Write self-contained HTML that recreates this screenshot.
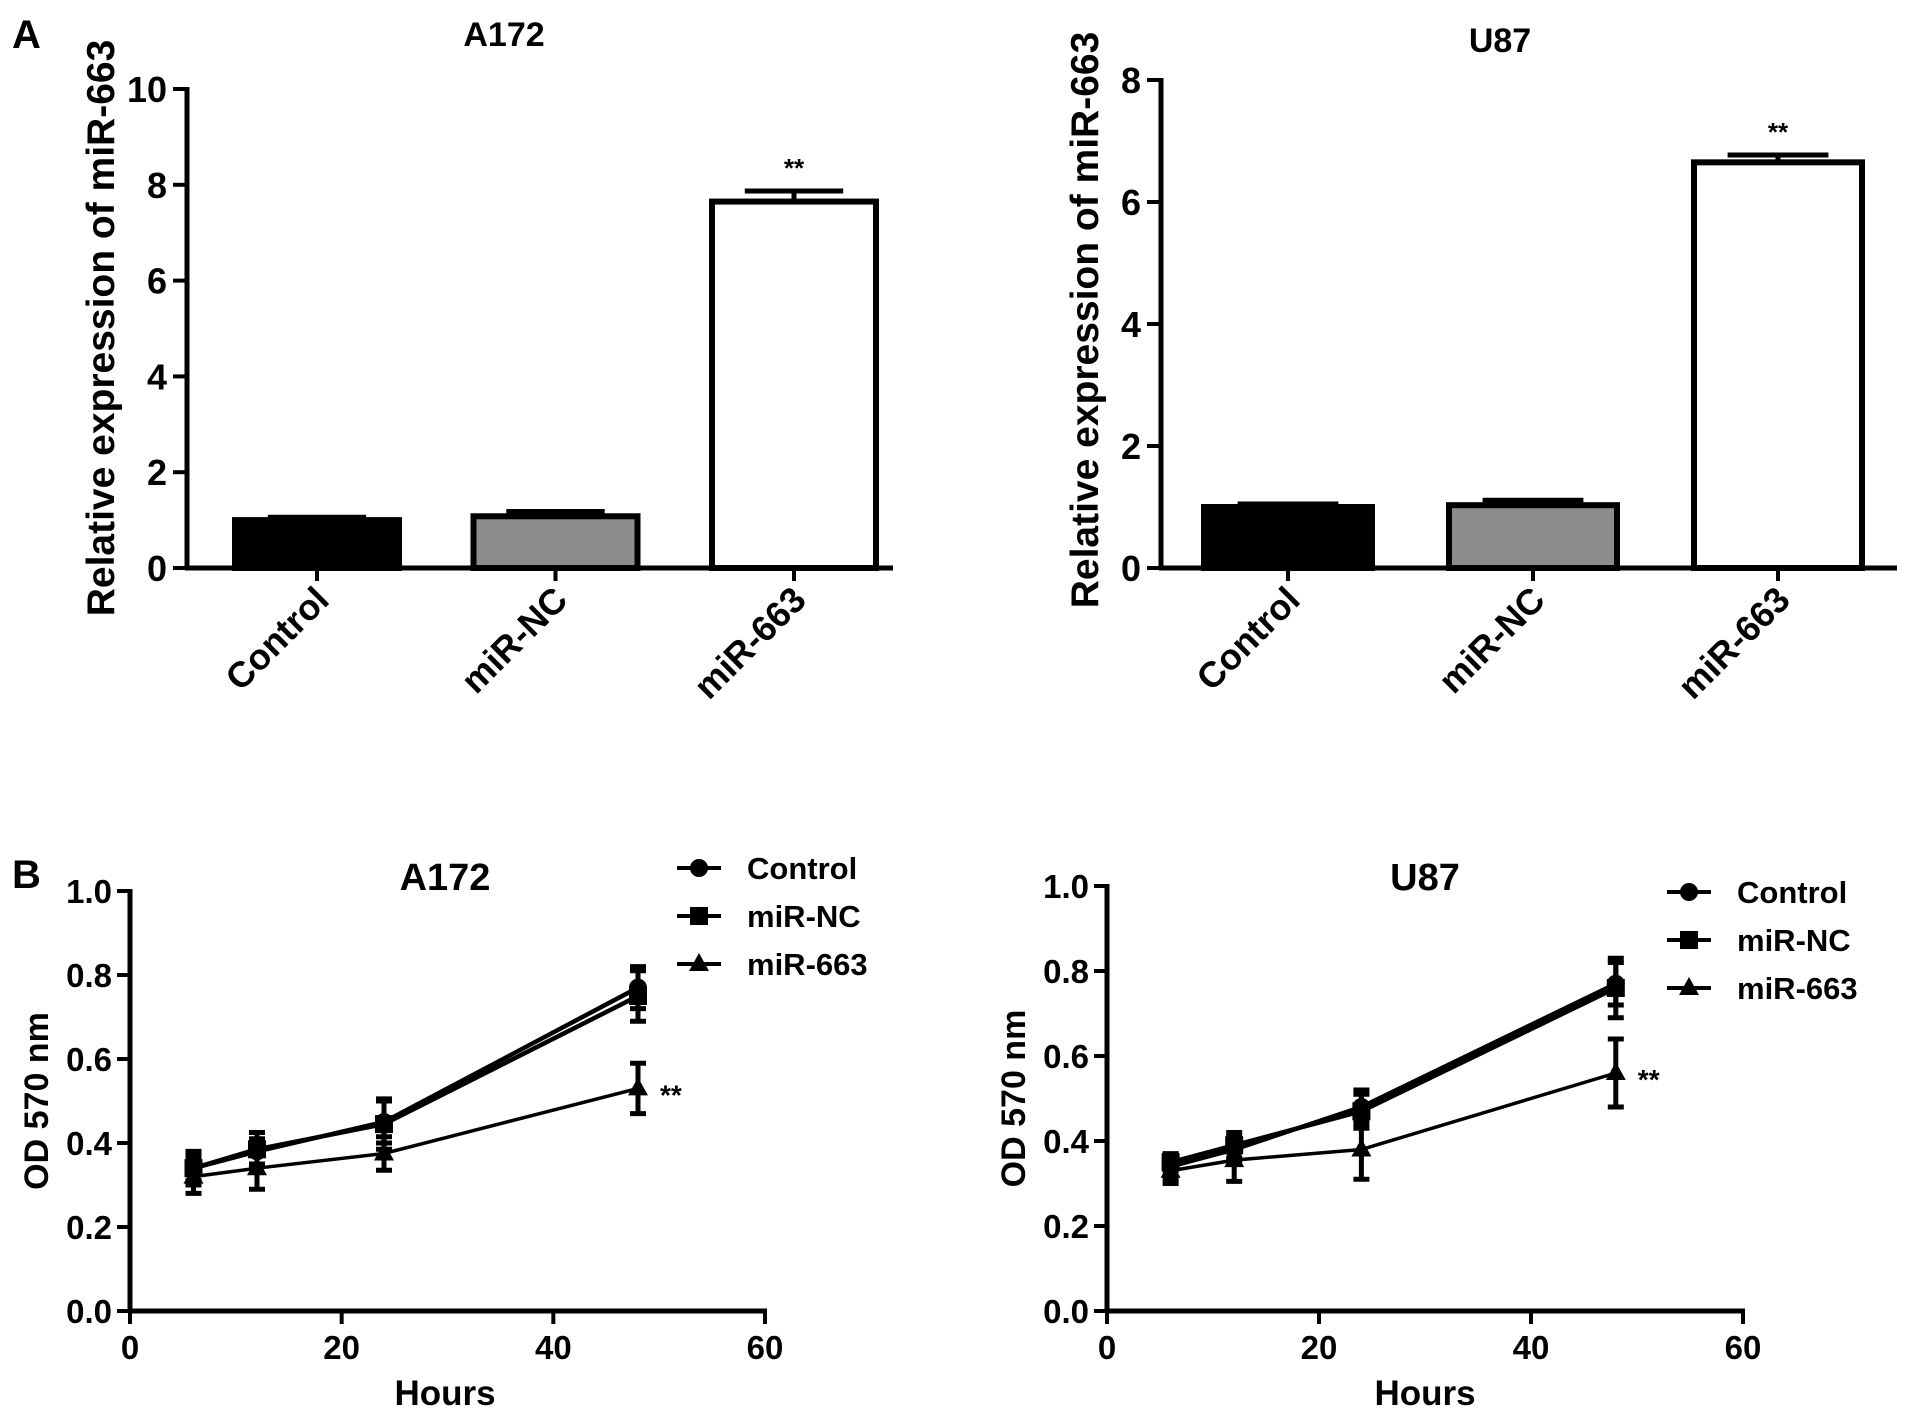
<!DOCTYPE html>
<html><head><meta charset="utf-8">
<style>
html,body{margin:0;padding:0;background:#fff;}
svg{display:block;font-family:"Liberation Sans",Arial,sans-serif;font-weight:bold;}
</style></head>
<body>
<svg id="fig" width="1913" height="1417" viewBox="0 0 1913 1417" xmlns="http://www.w3.org/2000/svg"></svg>
<script>
// ---- Panel A data ----
const barCategories = ["Control", "miR-NC", "miR-663"];
const a172Bars = [1.0, 1.08, 7.65];
const a172BarErr = [0.06, 0.1, 0.22];
const u87Bars = [1.0, 1.03, 6.65];
const u87BarErr = [0.05, 0.08, 0.12];
const a172YTicks = [0, 2, 4, 6, 8, 10];
const u87YTicks = [0, 2, 4, 6, 8];
// ---- Panel B data ----
const hours = [6, 12, 24, 48];
const seriesNames = ["Control", "miR-NC", "miR-663"];
const a172Control = [0.34, 0.38, 0.45, 0.77];
const a172NC = [0.34, 0.385, 0.445, 0.75];
const a172Mir = [0.32, 0.34, 0.375, 0.53];
const a172ControlErr = [0.03, 0.03, 0.05, 0.05];
const a172NCErr = [0.04, 0.04, 0.06, 0.06];
const a172MirErr = [0.04, 0.05, 0.04, 0.06];
const u87Control = [0.34, 0.38, 0.48, 0.77];
const u87NC = [0.35, 0.39, 0.47, 0.76];
const u87Mir = [0.33, 0.355, 0.38, 0.56];
const u87ControlErr = [0.03, 0.03, 0.04, 0.05];
const u87NCErr = [0.02, 0.03, 0.04, 0.07];
const u87MirErr = [0.03, 0.05, 0.07, 0.08];
const lineXTicks = [0, 20, 40, 60];
const lineYTicks = [0.0, 0.2, 0.4, 0.6, 0.8, 1.0];

const NS = "http://www.w3.org/2000/svg";
const svg = document.getElementById("fig");
function mk(tag, attrs, parent, txt) {
  const e = document.createElementNS(NS, tag);
  for (const k in attrs) e.setAttribute(k, attrs[k]);
  if (txt !== undefined) e.textContent = txt;
  (parent || svg).appendChild(e);
  return e;
}

function barPanel(o) {
  const g = mk("g", {});
  
  
  const y = v => o.y0 - (v / o.ymax) * (o.y0 - o.ytop);
  const step = o.step;
  const bw = o.bw;
  o.vals.forEach((v, i) => {
    const cx = o.c0 + step * i;
    const err = o.errs[i];
    const e = mk("line", {x1: cx, x2: cx, y1: y(v), y2: y(v + err), stroke: "#000", "stroke-width": 5}, g);
    
    
    const c = mk("line", {x1: cx - bw * 0.3, x2: cx + bw * 0.3, y1: y(v + err), y2: y(v + err), stroke: "#000", "stroke-width": 5}, g);
    
    
    const fills = ["#000", "#8c8c8c", "#fff"];
    const r = mk("rect", {x: cx - bw / 2, y: y(v), width: bw, height: o.y0 - y(v), fill: fills[i], stroke: "#000", "stroke-width": 6}, g);
    
    
    const t = mk("line", {x1: cx, x2: cx, y1: o.y0, y2: o.y0 + 13, stroke: "#000", "stroke-width": 4}, g);
    
    
    const lab = mk("text", {x: 0, y: 0, "font-size": 36, "text-anchor": "end", transform: `translate(${cx + 14},${o.y0 + 34}) rotate(-45)`}, g, barCategories[i]);
    
    
    if (i === 2) {
      const s = mk("text", {x: cx, y: y(v + err) - 14, "font-size": 26, "text-anchor": "middle"}, g, "**");
      
      
    }
  });
  const ax = mk("line", {x1: o.xa, x2: o.xa, y1: o.ytop - 2, y2: o.y0 + 2, stroke: "#000", "stroke-width": 5}, g);
  
  
  const xx = mk("line", {x1: o.xa - 2, x2: o.xr, y1: o.y0, y2: o.y0, stroke: "#000", "stroke-width": 5}, g);
  
  
  o.ticks.forEach(v => {
    const t = mk("line", {x1: o.xa - 14, x2: o.xa, y1: y(v), y2: y(v), stroke: "#000", "stroke-width": 4}, g);
    
    
    const l = mk("text", {x: o.xa - 20, y: y(v) + 13, "font-size": 36, "text-anchor": "end"}, g, String(v));
    
    
  });
  const yt = mk("text", {x: 0, y: 0, "font-size": 39, "text-anchor": "middle", transform: `translate(${o.ytx},${o.yty}) rotate(-90)`}, g, "Relative expression of miR-663");
  
  
  const ti = mk("text", {x: o.tx, y: o.ty, "font-size": 34, "text-anchor": "middle"}, g, o.title);
  
  
}

function marker(g, kind, x, y) {
  let m;
  if (kind === 0) m = mk("circle", {cx: x, cy: y, r: 9, fill: "#000"}, g);
  else if (kind === 1) m = mk("rect", {x: x - 9, y: y - 9, width: 18, height: 18, fill: "#000"}, g);
  else m = mk("polygon", {points: `${x},${y - 11} ${x - 10},${y + 7} ${x + 10},${y + 7}`, fill: "#000"}, g);
  return m;
}

function linePanel(o) {
  const g = mk("g", {});
  
  
  const X = v => o.xa + (v / 60) * (o.xr - o.xa);
  const Y = v => o.y0 - v * (o.y0 - o.ytop);
  const ax = mk("line", {x1: o.xa, x2: o.xa, y1: o.ytop - 2, y2: o.y0 + 2, stroke: "#000", "stroke-width": 5}, g);
  
  
  const xx = mk("line", {x1: o.xa - 2, x2: o.xr + 2, y1: o.y0, y2: o.y0, stroke: "#000", "stroke-width": 5}, g);
  
  
  lineYTicks.forEach(v => {
    const t = mk("line", {x1: o.xa - 13, x2: o.xa, y1: Y(v), y2: Y(v), stroke: "#000", "stroke-width": 4}, g);
    
    
    const l = mk("text", {x: o.xa - 18, y: Y(v) + 12, "font-size": 33, "text-anchor": "end"}, g, v.toFixed(1));
    
    
  });
  lineXTicks.forEach(v => {
    const t = mk("line", {x1: X(v), x2: X(v), y1: o.y0, y2: o.y0 + 13, stroke: "#000", "stroke-width": 4}, g);
    
    
    const l = mk("text", {x: X(v), y: o.y0 + 48, "font-size": 33, "text-anchor": "middle"}, g, String(v));
    
    
  });
  o.series.forEach((s, k) => {
    const pts = hours.map((h, i) => `${X(h)},${Y(s[i])}`).join(" ");
    const pl = mk("polyline", {points: pts, fill: "none", stroke: "#000", "stroke-width": k === 2 ? 3.5 : 4.5}, g);
    
    
    hours.forEach((h, i) => {
      const e = o.errs[k][i];
      const x = X(h);
      const eb = mk("path", {d: `M${x},${Y(s[i] - e)}V${Y(s[i] + e)}M${x - 8},${Y(s[i] - e)}H${x + 8}M${x - 8},${Y(s[i] + e)}H${x + 8}`, stroke: "#000", "stroke-width": 5, fill: "none"}, g);
      
      
      const m = marker(g, k, x, Y(s[i]));
      
      
    });
  });
  const last = o.series[2][3];
  const st = mk("text", {x: X(48) + 22, y: Y(last) + 16, "font-size": 28}, g, "**");
  
  
  seriesNames.forEach((n, k) => {
    const ly = o.ly + k * 48;
    const ln = mk("line", {x1: o.lx, x2: o.lx + 44, y1: ly, y2: ly, stroke: "#000", "stroke-width": 4}, g);
    
    
    const m = marker(g, k, o.lx + 22, ly);
    
    
    const t = mk("text", {x: o.lx + 70, y: ly + 11, "font-size": 31}, g, n);
    
    
  });
  const ti = mk("text", {x: o.tx, y: o.ty, "font-size": 38, "text-anchor": "middle"}, g, o.title);
  
  
  const xt = mk("text", {x: o.tx, y: 1405, "font-size": 35, "text-anchor": "middle"}, g, "Hours");
  
  
  const yt = mk("text", {x: 0, y: 0, "font-size": 34, "text-anchor": "middle", transform: `translate(${o.ytx},${(o.y0 + o.ytop) / 2}) rotate(-90)`}, g, "OD 570 nm");
  
  
}

barPanel({name: "a172-bar-chart", xa: 187, xr: 893, c0: 317, step: 238.5, bw: 164, y0: 568, ytop: 89, ymax: 10, vals: a172Bars, errs: a172BarErr, ticks: a172YTicks, ytx: 114, yty: 328, tx: 504, ty: 46, title: "A172"});
barPanel({name: "u87-bar-chart", xa: 1161, xr: 1897, c0: 1288, step: 245, bw: 168, y0: 568, ytop: 80, ymax: 8, vals: u87Bars, errs: u87BarErr, ticks: u87YTicks, ytx: 1098, yty: 320, tx: 1500, ty: 52, title: "U87"});
linePanel({name: "a172-line-chart", xa: 130, xr: 765, y0: 1311, ytop: 891, series: [a172Control, a172NC, a172Mir], errs: [a172ControlErr, a172NCErr, a172MirErr], lx: 677, ly: 868, tx: 445, ty: 890, title: "A172", ytx: 48});
linePanel({name: "u87-line-chart", xa: 1107, xr: 1743, y0: 1311, ytop: 886, series: [u87Control, u87NC, u87Mir], errs: [u87ControlErr, u87NCErr, u87MirErr], lx: 1667, ly: 892, tx: 1425, ty: 890, title: "U87", ytx: 1025});

const la = mk("text", {x: 12, y: 48, "font-size": 40}, svg, "A");


const lb = mk("text", {x: 12, y: 888, "font-size": 40}, svg, "B");


</script>
</body></html>
